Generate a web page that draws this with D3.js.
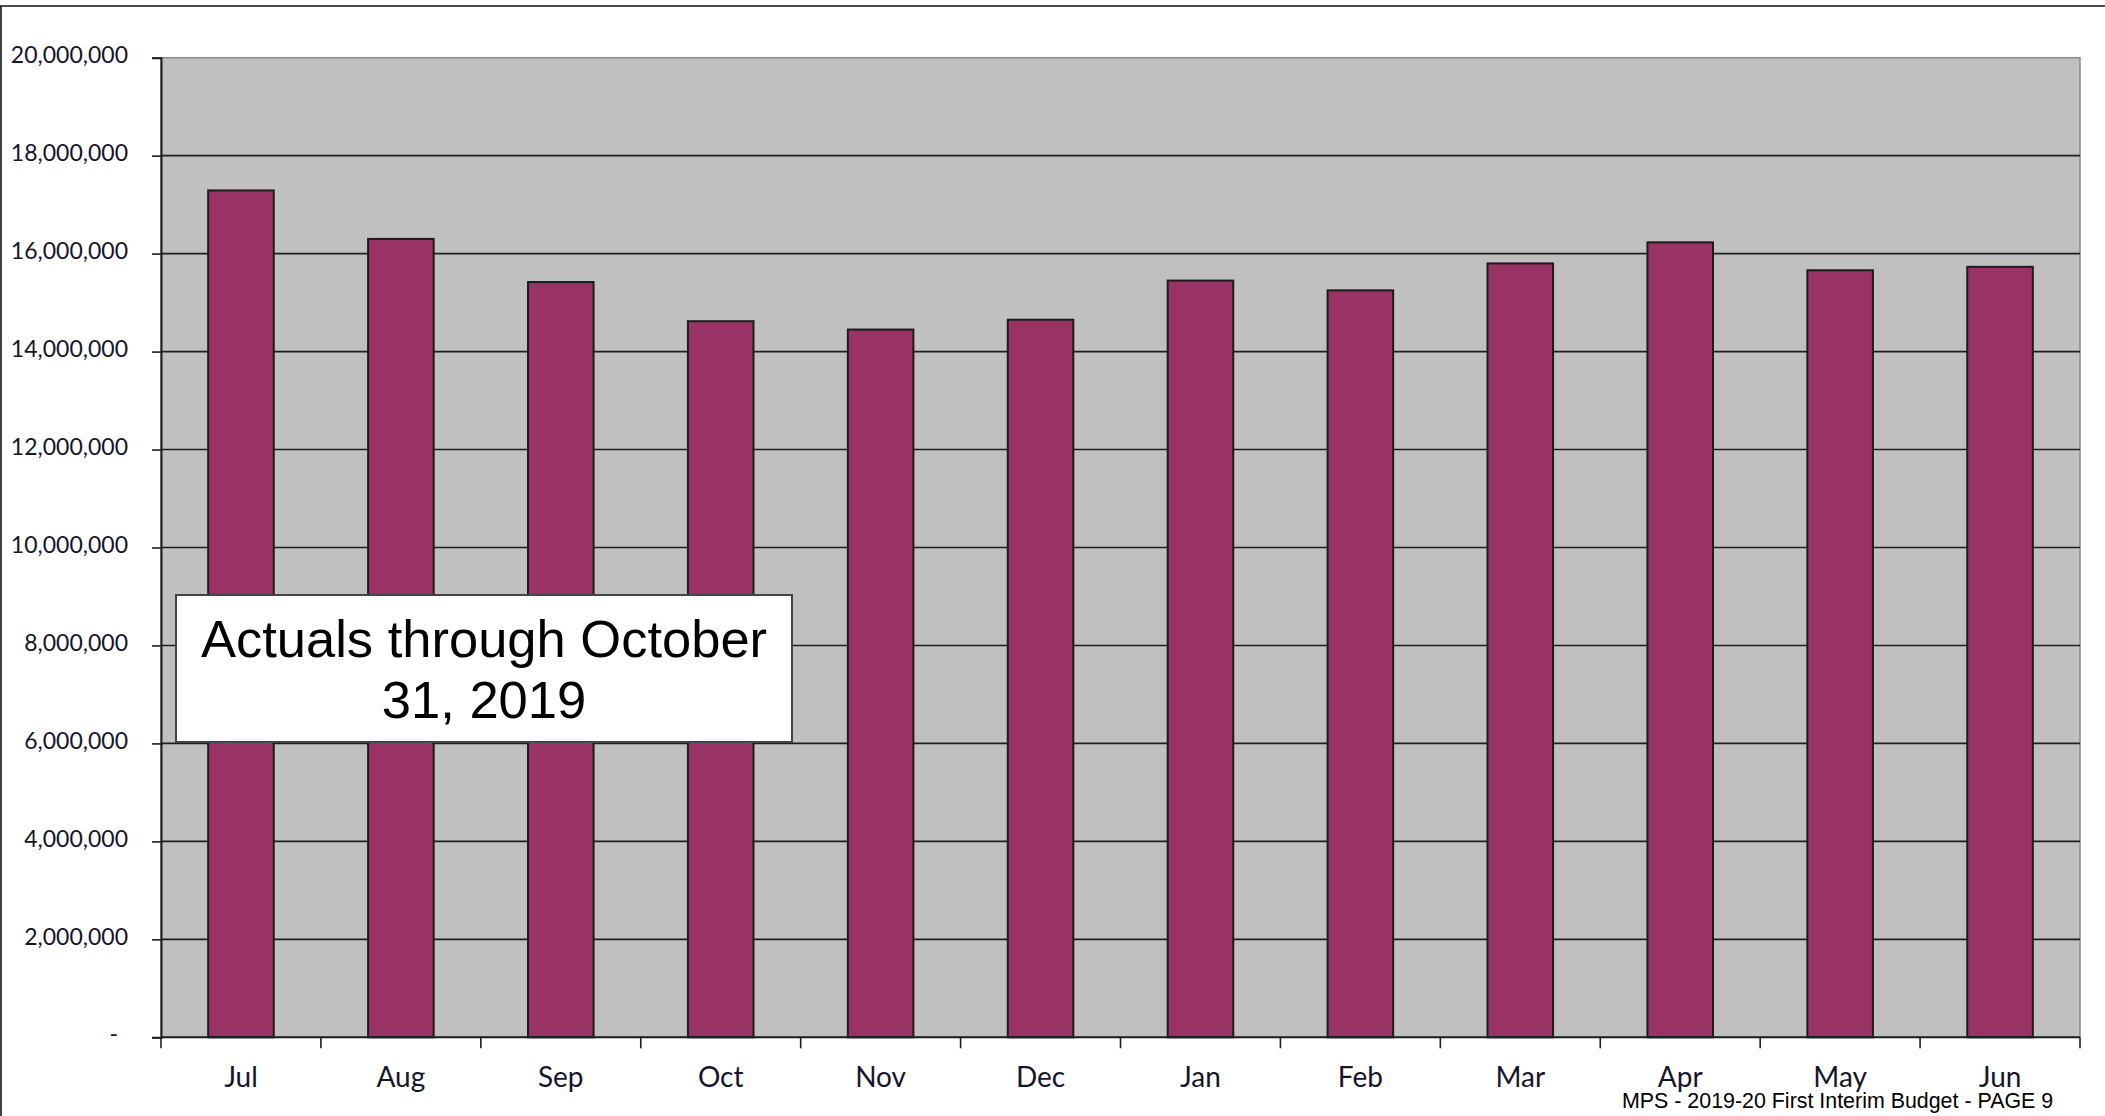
<!DOCTYPE html>
<html>
<head>
<meta charset="utf-8">
<script src="https://cdn.jsdelivr.net/npm/d3@7"></script>
<style>
  html, body { margin: 0; padding: 0; background: #ffffff; }
  svg { display: block; }
</style>
</head>
<body>
<svg id="chart" width="2105" height="1116"></svg>
<script>
// monthly values (dollars)
const months = ['Jul', 'Aug', 'Sep', 'Oct', 'Nov', 'Dec', 'Jan', 'Feb', 'Mar', 'Apr', 'May', 'Jun'];
const amounts = [17290000, 16300000, 15420000, 14620000, 14450000, 14650000,
    15450000, 15250000, 15800000, 16230000, 15660000, 15730000];
const yTicks = [0, 2000000, 4000000, 6000000, 8000000, 10000000, 12000000,
    14000000, 16000000, 18000000, 20000000];
const noteLines = ['Actuals through October', '31, 2019'];
const footerText = 'MPS - 2019-20 First Interim Budget - PAGE 9';

const plot = { left: 161, right: 2080, top: 57.7, bottom: 1037.3 };
const labelFont = 'Lato, "Open Sans", sans-serif';
const textColor = '#15152a';

const data = months.map((m, i) => ({ month: m, value: amounts[i] }));

const svg = d3.select('#chart');

// page frame (top and left rules)
svg.append('line')
    .attr('x1', 0).attr('x2', 2105).attr('y1', 6).attr('y2', 6)
    .attr('stroke', '#111').attr('stroke-width', 1.6);
svg.append('line')
    .attr('x1', 1).attr('x2', 1).attr('y1', 6).attr('y2', 1116)
    .attr('stroke', '#111').attr('stroke-width', 1.6);

const x = d3.scaleBand()
    .domain(months)
    .range([plot.left, plot.right])
    .paddingInner(0.59)
    .paddingOuter(0.295);

const y = d3.scaleLinear()
    .domain([0, 20000000])
    .range([plot.bottom, plot.top]);

// plot background
svg.append('rect')
    .attr('x', plot.left).attr('y', plot.top)
    .attr('width', plot.right - plot.left)
    .attr('height', plot.bottom - plot.top)
    .attr('fill', '#c0c0c0')
    .attr('stroke', '#8a8a8a')
    .attr('stroke-width', 1.5);

// gridlines
svg.append('g')
    .selectAll('line')
    .data(yTicks.filter(d => d > 0 && d < 20000000))
    .join('line')
    .attr('x1', plot.left).attr('x2', plot.right)
    .attr('y1', d => y(d)).attr('y2', d => y(d))
    .attr('stroke', '#1e1e1e')
    .attr('stroke-width', 1.6);

// bars
svg.append('g')
    .selectAll('rect')
    .data(data)
    .join('rect')
    .attr('x', d => x(d.month))
    .attr('width', x.bandwidth())
    .attr('y', d => y(d.value))
    .attr('height', d => y(0) - y(d.value))
    .attr('fill', '#993366')
    .attr('stroke', '#1c1c1c')
    .attr('stroke-width', 2);

// y axis
const fmt = d3.format(',.0f');
const yAxis = svg.append('g')
    .attr('transform', `translate(${plot.left},0)`)
    .call(d3.axisLeft(y)
        .tickValues(yTicks)
        .tickSize(9)
        .tickPadding(24)
        .tickFormat(d => d === 0 ? '-' : fmt(d)));
yAxis.select('.domain').attr('stroke', '#1e1e1e').attr('stroke-width', 2);
yAxis.selectAll('.tick line').attr('stroke', '#1e1e1e').attr('stroke-width', 1.6);
yAxis.selectAll('.tick text')
    .attr('font-family', labelFont)
    .attr('font-size', 23)
    .attr('fill', textColor)
    .attr('dy', d => d === 0 ? '0.2em' : '0.22em')
    .attr('dx', d => d === 0 ? -10 : 0);

// x axis: ticks at category boundaries
const step = x.step();
const boundaries = d3.range(months.length + 1).map(i => plot.left + i * step);
svg.append('line')
    .attr('x1', plot.left).attr('x2', plot.right)
    .attr('y1', plot.bottom).attr('y2', plot.bottom)
    .attr('stroke', '#1e1e1e').attr('stroke-width', 2);
svg.append('g')
    .selectAll('line')
    .data(boundaries)
    .join('line')
    .attr('x1', d => d).attr('x2', d => d)
    .attr('y1', plot.bottom).attr('y2', plot.bottom + 11)
    .attr('stroke', '#1e1e1e').attr('stroke-width', 1.6);
svg.append('g')
    .selectAll('text')
    .data(months)
    .join('text')
    .attr('x', d => x(d) + x.bandwidth() / 2)
    .attr('y', 1086.5)
    .attr('text-anchor', 'middle')
    .attr('font-family', labelFont)
    .attr('font-size', 28)
    .attr('fill', textColor)
    .text(d => d);

// annotation box
const note = svg.append('g');
note.append('rect')
    .attr('x', 176).attr('y', 595)
    .attr('width', 616).attr('height', 147)
    .attr('fill', '#ffffff')
    .attr('stroke', '#444444')
    .attr('stroke-width', 2);
note.selectAll('text')
    .data(noteLines)
    .join('text')
    .attr('x', 484)
    .attr('y', (d, i) => 657 + i * 61)
    .attr('text-anchor', 'middle')
    .attr('font-family', '"Liberation Sans", Arial, sans-serif')
    .attr('font-size', 52.5)
    .attr('fill', '#000')
    .text(d => d);

// footer
svg.append('text')
    .attr('x', 1622)
    .attr('y', 1108)
    .attr('font-family', '"Liberation Sans", Arial, sans-serif')
    .attr('font-size', 21.4)
    .attr('fill', '#000')
    .text(footerText);
</script>
</body>
</html>
